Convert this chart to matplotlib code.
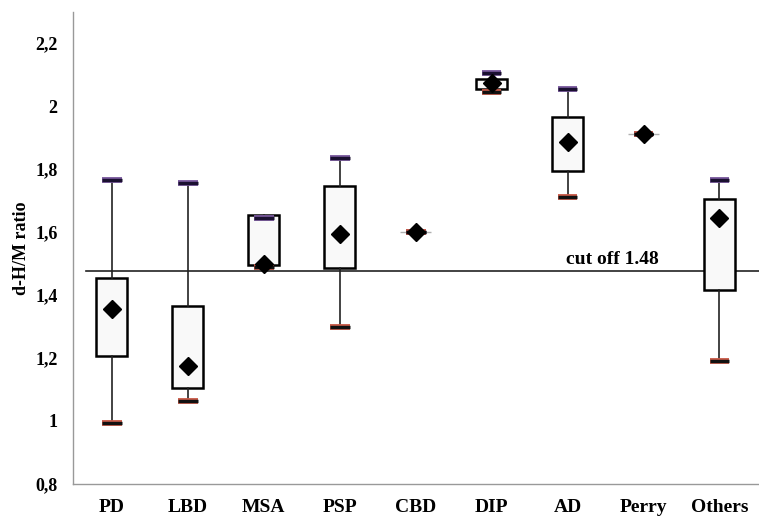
import matplotlib
matplotlib.use("Agg")
import matplotlib.pyplot as plt

categories = ["PD", "LBD", "MSA", "PSP", "CBD", "DIP", "AD", "Perry", "Others"]
whisker_low = [0.995, 1.065, 1.49, 1.30, 1.60, 2.045, 1.71, 1.91, 1.19]
q1 = [1.205, 1.105, 1.495, 1.485, 1.60, 2.055, 1.795, 1.91, 1.415]
q3 = [1.455, 1.365, 1.655, 1.745, 1.60, 2.085, 1.965, 1.91, 1.705]
whisker_high = [1.765, 1.755, 1.645, 1.835, 1.60, 2.105, 2.055, 1.91, 1.765]
means = [1.355, 1.175, 1.50, 1.595, 1.60, 2.072, 1.885, 1.91, 1.645]
cutoff = 1.475
yticks = [0.8, 1.0, 1.2, 1.4, 1.6, 1.8, 2.0, 2.2]
ytick_labels = ["0,8", "1", "1,2", "1,4", "1,6", "1,8", "2", "2,2"]

plt.rcParams['font.family'] = ['Liberation Serif', 'DejaVu Serif']
plt.rcParams['font.weight'] = 'bold'

fig = plt.figure(figsize=(7.59, 5.19), dpi=100)
ax = fig.add_axes([0.0962, 0.0675, 0.9038, 0.910])

positions = list(range(len(categories)))
stats = []
for i in positions:
    stats.append(dict(med=means[i], q1=q1[i], q3=q3[i],
                      whislo=whisker_low[i], whishi=whisker_high[i], fliers=[]))

bp = ax.bxp(stats, positions=positions, widths=0.41, patch_artist=True,
            showcaps=False, showfliers=False,
            boxprops=dict(facecolor="#f9f9f9", edgecolor="black", linewidth=1.8),
            whiskerprops=dict(color="#222222", linewidth=1.2),
            medianprops=dict(linewidth=0))
for i, patch in enumerate(bp['boxes']):
    if q3[i] - q1[i] < 1e-6:
        patch.set_edgecolor("#b0b0b0")
        patch.set_linewidth(1.0)
    patch.set_zorder(2)

capw = 0.13
for i in positions:
    ax.hlines(whisker_high[i], i - capw, i + capw, color="#7a5a9e", linewidth=4.2, zorder=3)
    ax.hlines(whisker_high[i], i - capw, i + capw, color="#1a1030", linewidth=2.4, zorder=3.1)
    ax.hlines(whisker_low[i], i - capw, i + capw, color="#c85a48", linewidth=4.2, zorder=3)
    ax.hlines(whisker_low[i], i - capw, i + capw, color="#111111", linewidth=2.4, zorder=3.1)

ax.plot(positions, means, linestyle="none", marker="D", markersize=9.5,
        color="black", zorder=4)

ax.axhline(cutoff, xmin=0.019, xmax=1.0, color="#222222", linewidth=1.2, zorder=1)
ax.text(6.59, cutoff + 0.012, "cut off 1.48", ha="center", va="bottom",
        fontsize=14, fontweight="bold")

ax.set_xlim(-0.51, 8.52)
ax.set_ylim(0.8, 2.3)
ax.set_xticks(positions)
ax.set_xticklabels(categories, fontsize=14, fontweight="bold")
ax.set_yticks(yticks)
ax.set_yticklabels(ytick_labels, fontsize=13, fontweight="bold")
ax.tick_params(axis="both", length=0)
ax.tick_params(axis="x", pad=11)
ax.tick_params(axis="y", pad=11)
ax.set_ylabel("d-H/M ratio", fontsize=13, fontweight="bold", labelpad=4)

for s in ["top", "right"]:
    ax.spines[s].set_visible(False)
for s in ["left", "bottom"]:
    ax.spines[s].set_color("#999999")
    ax.spines[s].set_linewidth(1.0)

fig.savefig("out.png", dpi=100)
